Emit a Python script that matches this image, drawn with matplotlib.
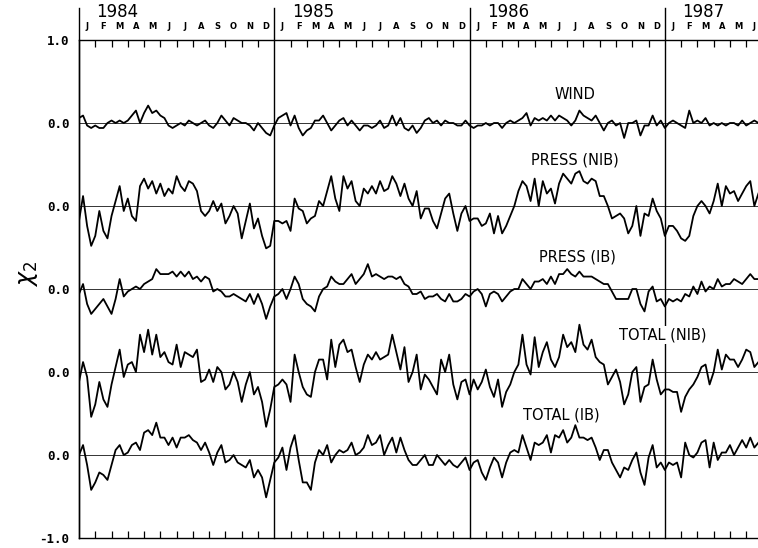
import matplotlib
matplotlib.use('Agg')
import matplotlib.pyplot as plt
import matplotlib.transforms as mtransforms
import numpy as np

# values, in units of 0.01 (4 samples per month, Jan 1984 - mid 1987)
wind = [2,3,-1,-2,-1,-2,-2,0,1,0, 1,0,1,3,5,0,4,7,4,5, 3,2,-1,-2,-1,0,-1,1,0,-1,
        0,1,-1,-2,0,3,1,-1,2,1, 0,0,-1,-3,0,-2,-4,-5,
        -1,2,3,4,-1,3,-2,-5,-3,-2, 1,1,3,0,-3,-1,1,2,-1,1, -1,-3,-1,-1,-2,-1,1,-2,-1,3,
        -1,2,-2,-3,-1,-4,-2,1,2,0, 1,-1,1,0,0,-1,-1,1,
        -1,-2,-1,-1,0,-1,0,0,-2,0, 1,0,1,2,4,-1,2,1,2,1, 3,1,3,2,1,-1,1,5,3,2,
        1,3,0,-3,0,1,-1,0,-6,0, 0,1,-5,-1,-1,3,-1,1,
        -2,0,1,0,-1,-2,5,0,1,0, 2,-1,0,-1,0,-1,0,0,-1,1, -1,0,1,0]
press_nib = [-6,4,-8,-16,-12,-2,-10,-13,-4,2, 8,-2,3,-4,-6,8,11,7,10,5, 9,4,7,5,12,8,6,10,9,6,
             -2,-4,-2,2,-2,1,-7,-4,0,-3, -13,-6,1,-9,-5,-12,-17,-16,
             -6,-6,-7,-6,-10,3,-1,-2,-7,-5, -4,2,0,6,12,3,-2,12,7,10, 2,0,7,5,8,5,10,6,7,12,
             9,4,9,3,0,6,-5,-1,-1,-6, -9,-3,3,5,-3,-10,-3,0,
             -6,-5,-5,-8,-7,-3,-11,-4,-11,-8, -4,0,6,10,8,2,11,0,10,5, 7,1,9,13,11,9,13,14,10,9,
             11,10,4,4,0,-5,-4,-3,-5,-11, -8,0,-12,-3,-4,3,-2,-5,
             -12,-8,-8,-10,-13,-14,-12,-4,0,2, 0,-3,2,9,0,8,5,6,2,5, 8,10,0,5]
press_ib = [-2,2,-6,-10,-8,-6,-4,-7,-10,-4, 4,-3,-1,0,1,0,2,3,4,8, 6,6,6,7,5,7,5,7,4,5,
            3,5,4,-1,0,-1,-3,-3,-2,-3, -4,-5,-2,-6,-2,-6,-12,-7,
            -3,-2,0,-4,0,5,2,-4,-6,-7, -9,-3,0,1,5,3,2,2,4,6, 2,4,6,10,5,6,5,4,5,5,
            4,5,2,1,-2,-2,-1,-4,-3,-3, -2,-4,-5,-2,-5,-5,-4,-2,
            -3,-1,0,-2,-7,-2,-1,-2,-5,-3, -1,0,0,4,2,0,3,3,4,2, 5,2,6,6,8,6,5,7,5,5,
            5,4,3,2,2,-1,-4,-4,-4,-4, 0,0,-6,-9,-1,1,-5,-4,
            -7,-4,-5,-4,-5,-2,-3,1,-2,3, -1,1,0,4,1,2,2,4,3,2, 4,6,4,4]
total_nib = [-4,4,-2,-18,-13,-4,-11,-14,-5,2, 9,-2,3,4,0,15,8,17,7,15, 6,8,4,3,11,2,8,7,6,9,
             -4,-3,1,-4,2,0,-7,-5,0,-4, -12,-5,0,-9,-6,-12,-22,-15,
             -6,-5,-3,-5,-12,7,0,-6,-9,-10, 0,5,5,-3,13,2,11,13,8,9, 2,-4,3,7,5,8,5,6,7,15,
             8,1,10,-4,0,7,-7,-1,-3,-6, -9,5,0,7,-5,-11,-4,-3,
             -9,-3,-7,-4,1,-6,-10,-3,-14,-8, -5,0,3,15,3,-1,14,2,8,12, 5,2,6,15,10,12,8,19,11,9,
             13,6,4,3,-5,-2,1,-4,-13,-9, 0,2,-12,-6,-5,5,-3,-9,
             -7,-7,-8,-8,-16,-10,-7,-5,-2,2, 3,-5,0,9,1,7,5,5,2,5, 9,8,2,4]
total_ib = [0,4,-4,-14,-11,-7,-8,-10,-4,2, 4,0,1,4,5,2,9,10,8,13, 7,7,4,7,3,7,7,8,6,5,
            2,5,1,-4,1,4,-3,-2,0,-3, -4,-5,-2,-9,-6,-9,-17,-10,
            -3,-1,3,-6,3,8,-2,-11,-11,-14, -3,2,0,4,-3,0,2,1,2,5, 0,1,3,8,4,5,8,0,4,7,
            1,7,2,-2,-4,-4,-2,0,-4,-4, 0,-2,-4,-2,-4,-5,-3,-1,
            -6,-3,-2,-7,-10,-5,-1,-3,-9,-3, 1,2,1,8,3,-2,5,4,5,8, 1,8,7,10,5,7,12,7,7,6,
            7,3,-2,2,2,-3,-6,-9,-5,-6, -2,1,-7,-12,-1,4,-5,-3,
            -6,-3,-4,-3,-9,5,0,-1,1,5, 6,-5,5,-2,1,1,4,0,3,6, 3,7,3,5]

series = [wind, press_nib, press_ib, total_nib, total_ib]
names = ['WIND', 'PRESS (NIB)', 'PRESS (IB)', 'TOTAL (NIB)', 'TOTAL (IB)']
offsets = [2/3, 1/3, 0, -1/3, -2/3]
label_pos = [(1986.54, 0.78), (1986.54, 0.52), (1986.55, 0.13), (1986.99, -0.185), (1986.47, -0.505)]
years = [1984, 1985, 1986, 1987]
months = ['J', 'F', 'M', 'A', 'M', 'J', 'J', 'A', 'S', 'O', 'N', 'D']
x_end = 1987.477

fig = plt.figure(figsize=(7.58, 5.48), dpi=100)
ax = fig.add_axes([0.1042, 0.0182, 0.8958, 0.9088])

t = 1984 + np.arange(len(wind)) / 48.0
for s, off in zip(series, offsets):
    ax.axhline(off, color='#333333', lw=0.7, zorder=1)
    ax.plot(t, np.array(s) * 0.01 + off, color='black', lw=1.3, zorder=2)

for name, (xx, yy) in zip(names, label_pos):
    ax.text(xx, yy, name, ha='center', va='center', fontsize=10.5,
            bbox=dict(facecolor='white', edgecolor='none', pad=1), zorder=3)

ax.spines['right'].set_visible(False)
for sp in ['left', 'top', 'bottom']:
    ax.spines[sp].set_linewidth(1.0)

ax.set_yticks([-1] + offsets[::-1] + [1])
ax.set_yticklabels(['-1.0'] + ['0.0'] * 5 + ['1.0'], family='DejaVu Sans Mono',
                   fontsize=9, fontweight='bold')
ax.tick_params(axis='y', length=0, pad=7)

# month boundary ticks, top and bottom
mticks = [y + m / 12 for y in years for m in range(1, 12) if y + m / 12 < x_end]
ax.set_xticks(mticks)
ax.set_xticklabels([])
ax.tick_params(axis='x', direction='in', top=True, bottom=True, length=5, width=0.9)
ax.set_xlim(1984, x_end)
ax.set_ylim(-1, 1)

trans = mtransforms.blended_transform_factory(ax.transData, ax.transAxes)
for y in years:
    ax.plot([y, y], [0, 1.065], color='black', lw=1.0, transform=trans, clip_on=False)
    ax.text(y + 0.09, 1.056, str(y), transform=trans, fontsize=12, ha='left', va='center')
    for m, lab in enumerate(months):
        xm = y + (m + 0.5) / 12
        if xm < x_end - 0.01:
            ax.text(xm, 1.027, lab, transform=trans, fontsize=6,
                    fontweight='bold', ha='center', va='center')

fig.text(0.037, 0.50, r'$\chi_2$', rotation=90, fontsize=17, ha='center', va='center')

plt.savefig('out.png', dpi=100)
